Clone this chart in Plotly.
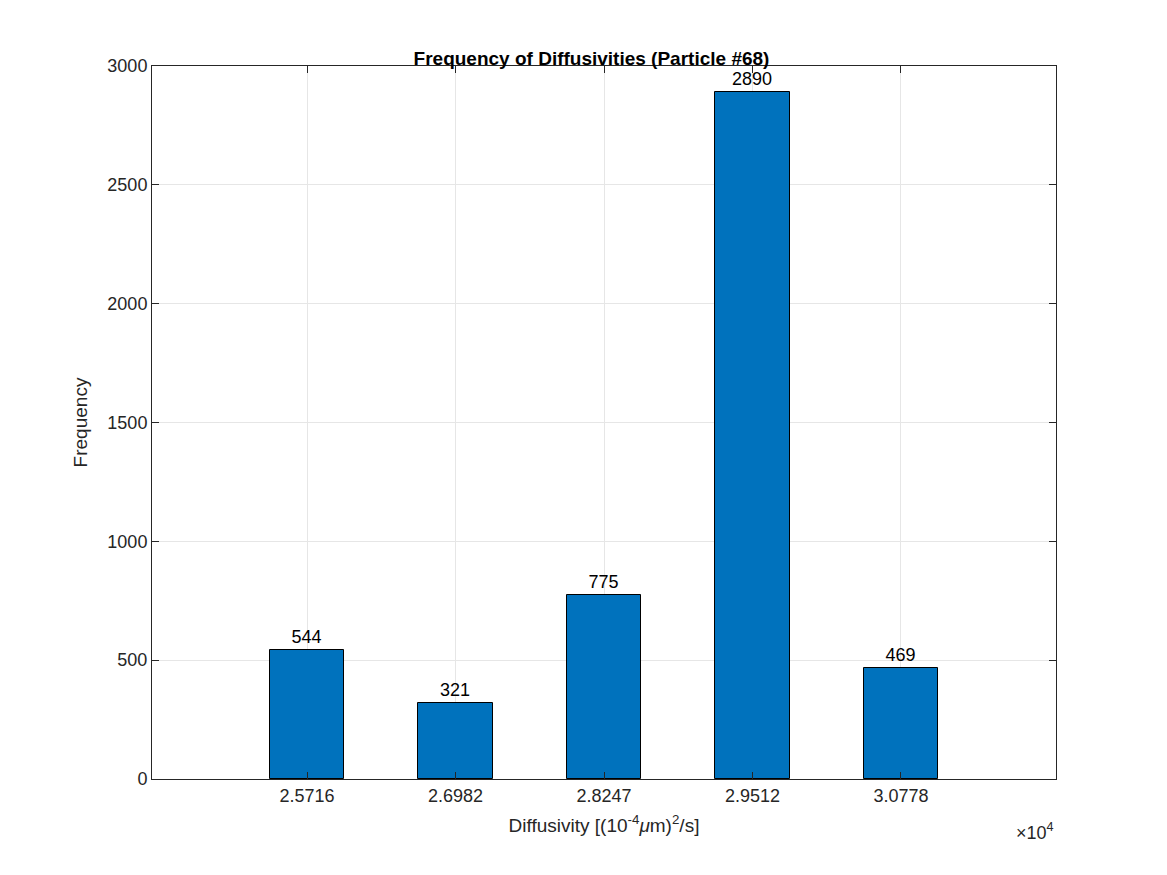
import plotly.graph_objects as go

# bin centres (x 10^4) and counts
bin_labels = ["2.5716", "2.6982", "2.8247", "2.9512", "3.0778"]
counts = [544, 321, 775, 2890, 469]
positions = list(range(len(bin_labels)))

fig = go.Figure()
fig.add_trace(go.Bar(
    x=positions, y=counts, width=0.5,
    marker=dict(color="#0072BD", line=dict(color="black", width=1)),
    text=[str(c) for c in counts], textposition="outside",
    textfont=dict(size=18, color="black"), cliponaxis=False,
    showlegend=False,
))

axis_common = dict(showline=True, linecolor="#262626", linewidth=1, mirror="ticks",
                   ticks="inside", ticklen=7, tickcolor="#262626",
                   showgrid=True, gridcolor="#e6e6e6", zeroline=False,
                   tickfont=dict(size=18, color="#262626"))

fig.update_layout(
    width=1167, height=875,
    margin=dict(l=144, r=119, t=58, b=104),
    paper_bgcolor="white", plot_bgcolor="white",
    font=dict(family="Liberation Sans, Arial", color="#262626"),
    title=dict(text="<b>Frequency of Diffusivities (Particle #68)</b>",
               x=0.5, xanchor="center", y=0.935, yanchor="bottom",
               font=dict(size=19, color="black")),
    xaxis=dict(range=[-1.044, 5.044], tickvals=positions, ticktext=bin_labels,
               title=dict(text="Diffusivity [(10<sup>-4</sup><i>μ</i>m)<sup>2</sup>/s]",
                          font=dict(size=19), standoff=14),
               **axis_common),
    yaxis=dict(range=[0, 3000], dtick=500,
               title=dict(text="Frequency", font=dict(size=19), standoff=14),
               **axis_common),
    bargap=0,
)
fig.add_annotation(text="×10<sup>4</sup>", xref="paper", yref="paper",
                   x=1.0, y=-0.055, xanchor="right", yanchor="top",
                   showarrow=False, font=dict(size=18, color="#262626"))

fig.write_html("out.html")
